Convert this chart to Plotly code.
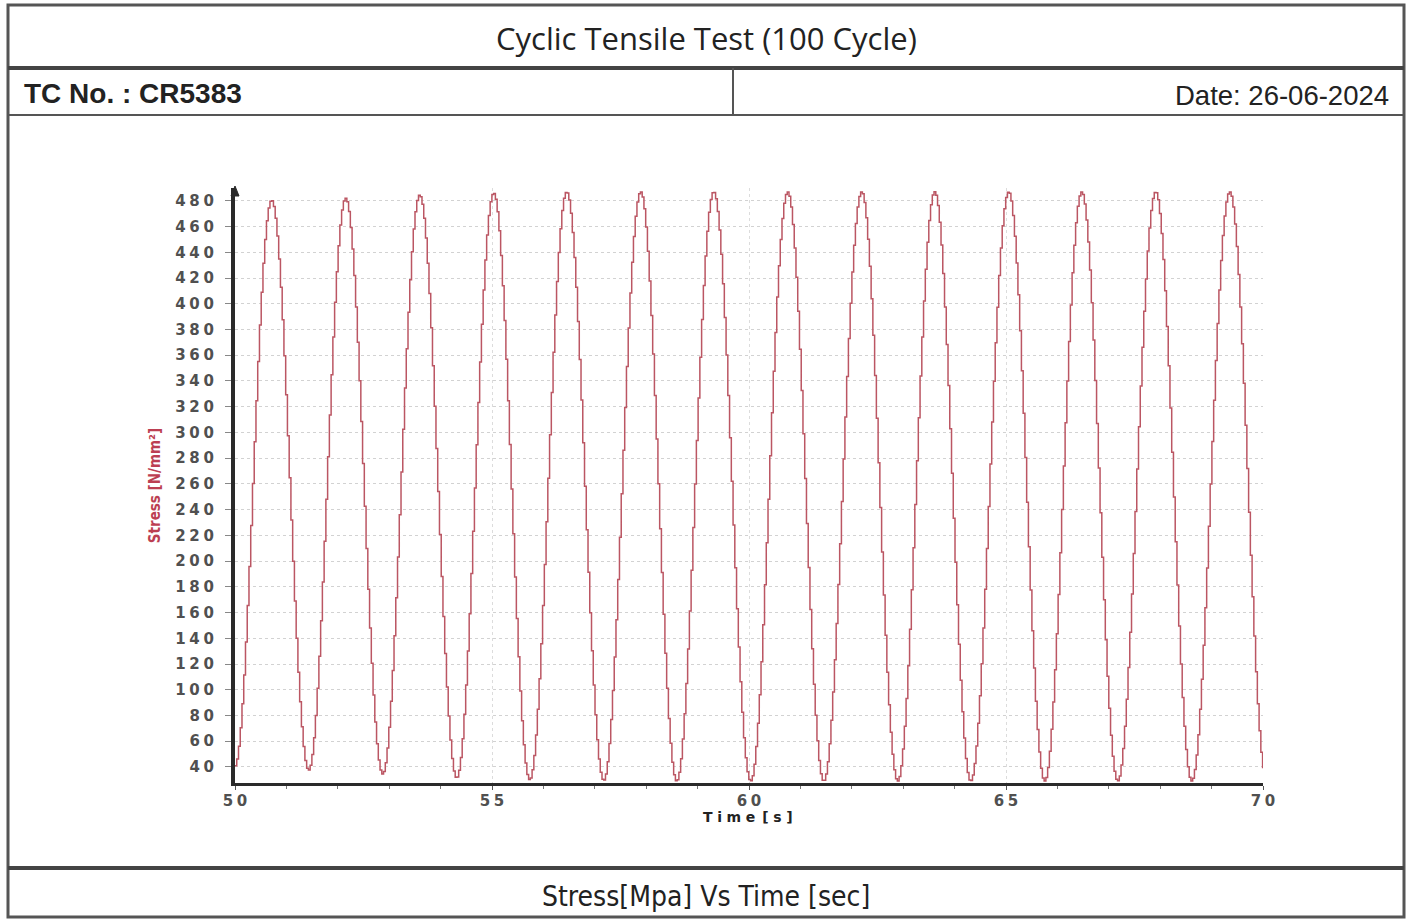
import numpy as np
import plotly.graph_objects as go

# ---------------- data ----------------
title_text = "Cyclic Tensile Test (100 Cycle)"
tc_text = "TC No. : CR5383"
date_text = "Date: 26-06-2024"
footer_text = "Stress[Mpa] Vs Time [sec]"
x_title = "Time [s]"
y_title = "Stress [N/mm²]"

peak_times = [50.70, 52.14, 53.58, 55.02, 56.44, 57.88, 59.30, 60.74, 62.18, 63.60,
              65.04, 66.46, 67.90, 69.34]
peak_values = [480.5, 482, 484.5, 486, 487, 487, 487, 487, 487, 487, 487, 487, 487, 487]
trough_times = [49.98, 51.42, 52.86, 54.30, 55.72, 57.16, 58.58, 60.02, 61.44, 62.88,
                64.30, 65.74, 67.16, 68.60, 70.06]
trough_values = [40, 37.5, 34.5, 31.5, 30, 29.5, 29, 29, 29, 29, 29, 29, 29, 29, 29]
sample_interval = 0.034      # s, controller logging interval
t_start, t_end = 50.0, 70.0

y_ticks = list(range(40, 481, 20))
x_ticks = [50, 55, 60, 65, 70]

# ---------------- build the logged signal ----------------
ext_t = np.array(trough_times + peak_times)
ext_v = np.array(trough_values + peak_values)
order = np.argsort(ext_t)
ext_t, ext_v = ext_t[order], ext_v[order]

t = np.arange(t_start, t_end + 1e-9, sample_interval)
idx = np.clip(np.searchsorted(ext_t, t, side="right") - 1, 0, len(ext_t) - 2)
t0, t1 = ext_t[idx], ext_t[idx + 1]
v0, v1 = ext_v[idx], ext_v[idx + 1]
frac = (t - t0) / (t1 - t0)
stress = v0 + (v1 - v0) * (1 - np.cos(np.pi * frac)) / 2

# ---------------- figure ----------------
W, H = 1411, 920
def px(x): return x / W
def py(y): return 1 - y / H

def spaced(s, sp="\u2005"):
    return "\u2002".join(sp.join(w) for w in str(s).split(" "))

fig = go.Figure()
fig.add_trace(go.Scatter(x=t, y=stress, mode="lines", line_shape="hv",
                         line=dict(color="#bb5663", width=1.5),
                         hoverinfo="skip", showlegend=False))

tick_font = dict(family="DejaVu Sans", size=15, color="#505050", weight="bold")

fig.update_layout(
    width=W, height=H, autosize=False,
    margin=dict(l=0, r=0, t=0, b=0, pad=0),
    paper_bgcolor="white", plot_bgcolor="white",
    xaxis=dict(domain=[px(235), px(1263)], range=[50, 70], automargin=False,
               tickvals=x_ticks, ticktext=[spaced(v) for v in x_ticks],
               tickfont=tick_font, ticks="outside", ticklen=4, tickcolor="#555",
               ticklabelstandoff=-2,
               showline=True, linewidth=3, linecolor="#2a2a2a",
               showgrid=True, gridcolor="#dcdcdc", griddash="dot", gridwidth=1,
               zeroline=False,
               minor=dict(dtick=1, ticks="outside", ticklen=3, tickcolor="#777", showgrid=False)),
    yaxis=dict(domain=[py(783), py(188)], range=[27.5, 490], automargin=False,
               tickvals=y_ticks, ticktext=[spaced(v) for v in y_ticks],
               tickfont=tick_font, ticks="outside", ticklen=6, tickcolor="#888",
               ticklabelstandoff=8,
               showline=True, linewidth=4, linecolor="#2a2a2a",
               showgrid=True, gridcolor="#d2d2d2", griddash="dot", gridwidth=1,
               zeroline=False,
               title=dict(text=y_title,
                          font=dict(family="Liberation Sans Narrow, DejaVu Sans Condensed, Liberation Sans",
                                    size=15, color="#bc3f52", weight="bold"),
                          standoff=12)),
)

border = "#555555"
shapes = [
    dict(type="rect", x0=px(8), x1=px(1404), y0=py(917), y1=py(5),
         line=dict(color=border, width=3)),
    dict(type="line", x0=px(8), x1=px(1404), y0=py(68), y1=py(68), line=dict(color="#444", width=4)),
    dict(type="line", x0=px(8), x1=px(1404), y0=py(115), y1=py(115), line=dict(color=border, width=2)),
    dict(type="line", x0=px(733), x1=px(733), y0=py(115), y1=py(68), line=dict(color=border, width=2)),
    dict(type="line", x0=px(8), x1=px(1404), y0=py(868), y1=py(868), line=dict(color="#444", width=4)),
    dict(type="path", path=f"M {px(231)} {py(196)} L {px(235)} {py(186)} L {px(239)} {py(196)} Z",
         fillcolor="#2a2a2a", line=dict(color="#2a2a2a", width=1)),
]
for s in shapes:
    s["xref"] = "paper"
    s["yref"] = "paper"
fig.update_layout(shapes=shapes)

annotations = [
    dict(text=title_text, x=px(706), y=py(38), xanchor="center",
         font=dict(family="Open Sans, Noto Sans", size=31, color="#222")),
    dict(text=tc_text, x=px(22), y=py(93), xanchor="left",
         font=dict(family="Liberation Sans, Arial", size=28, color="#222", weight="bold")),
    dict(text=date_text, x=px(1391), y=py(95), xanchor="right",
         font=dict(family="Liberation Sans, Arial", size=27.5, color="#222")),
    dict(text=footer_text, x=px(706), y=py(896), xanchor="center",
         font=dict(family="Liberation Sans Narrow, DejaVu Sans Condensed, Liberation Sans", size=28, color="#222")),
    dict(text=spaced(x_title, "\u2004"), x=px(748), y=py(817), xanchor="center",
         font=dict(family="DejaVu Sans", size=14, color="#222", weight="bold")),
]
for a in annotations:
    a["xref"] = "paper"
    a["yref"] = "paper"
    a["yanchor"] = "middle"
    a["showarrow"] = False
fig.update_layout(annotations=annotations)

post = ("document.body.style.margin='0';document.body.style.padding='0';"
        "document.body.style.overflow='hidden';"
        "var gd=document.getElementById('{plot_id}');"
        "Plotly.relayout(gd,{width:1411,height:920});")
fig.write_html("out.html", config={"displayModeBar": False, "responsive": False},
               post_script=post)
